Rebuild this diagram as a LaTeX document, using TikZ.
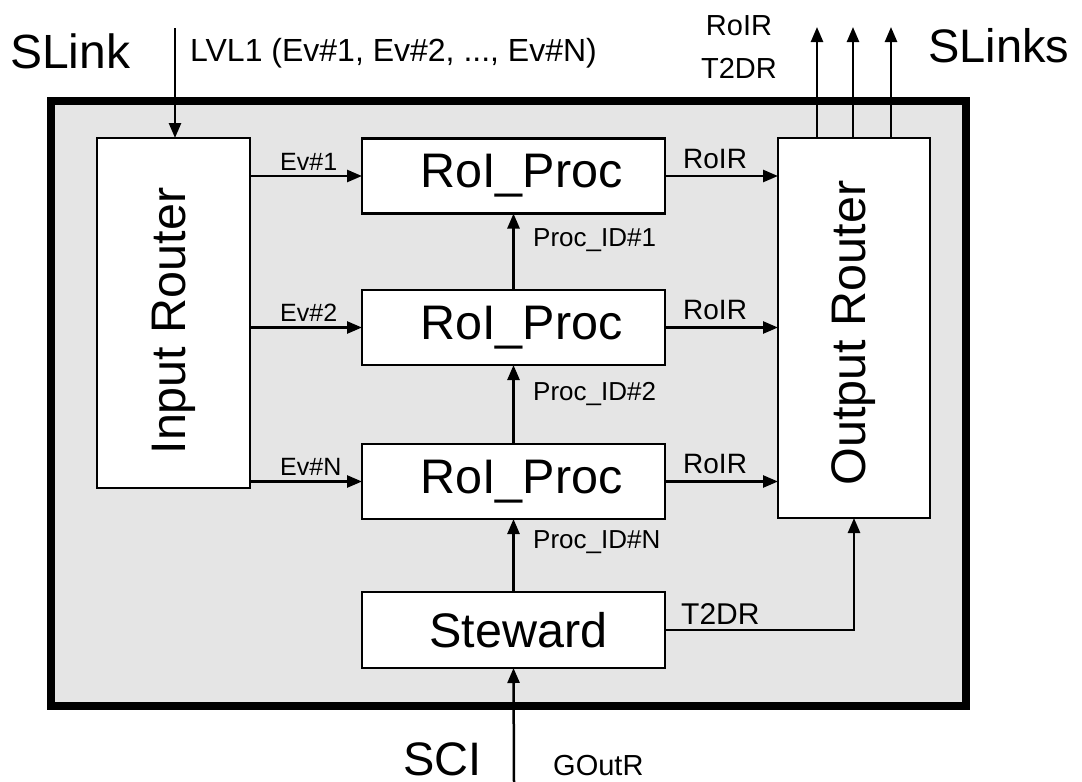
\documentclass[tikz,border=0pt]{standalone}
\usepackage{fontspec}
\setmainfont{Liberation Sans}
\usetikzlibrary{arrows.meta}
\definecolor{framegray}{RGB}{229,229,229}
\newcommand{\fs}[1]{\fontsize{#1}{#1}\selectfont}
\begin{document}
\begin{tikzpicture}[x=1pt,y=-1pt,
  box/.style={draw=black, fill=white, line width=2.5pt, inner sep=0pt, outer sep=0pt, font=\fs{48.5}},
  conn/.style={line width=2.5pt, -{Triangle[length=15pt,width=12pt]}},
  small/.style={font=\fs{25}, inner sep=0pt, anchor=base west},
  mid/.style={font=\fs{28}, inner sep=0pt, anchor=base west},
  big/.style={font=\fs{47}, inner sep=0pt, anchor=base west}]
\useasboundingbox (0,0) rectangle (1082,782);
% frame
\draw[line width=8pt, fill=framegray] (51,101) rectangle (966,706);
% boxes
\node[box, minimum width=153pt, minimum height=350pt] (in) at (173.5,313) {\rotatebox{90}{Input Router\hspace*{16pt}}};
\node[box, minimum width=303pt, minimum height=75pt] (p1) at (513.5,176) {\hspace*{16pt}RoI\_Proc};
\node[box, minimum width=303pt, minimum height=75pt] (p2) at (513.5,327.5) {\hspace*{16pt}RoI\_Proc};
\node[box, minimum width=303pt, minimum height=75pt] (p3) at (513.5,481.5) {\hspace*{16pt}RoI\_Proc};
\node[box, minimum width=152pt, minimum height=380pt] (out) at (854,328) {\rotatebox{90}{Output Router\hspace*{10pt}}};
\node[box, minimum width=303pt, minimum height=76pt] (st) at (513.5,630) {\hspace*{10pt}Steward};
% coordinates for free ends
\coordinate (lvlin) at (175,28);
\coordinate (o1) at (817,27);
\coordinate (o2) at (853,27);
\coordinate (o3) at (891,27);
\coordinate (sci) at (514,782);
% connectors
\draw[conn] (lvlin) -- (lvlin |- in.north);
\foreach \c in {o1,o2,o3} \draw[conn] (\c |- out.north) -- (\c);
\foreach \p in {p1,p2,p3} {
  \draw[conn] (in.east |- \p.west) -- (\p.west);
  \draw[conn] (\p.east) -- (out.west |- \p.east);
}
\draw[conn] (p2.north) -- (p1.south);
\draw[conn] (p3.north) -- (p2.south);
\draw[conn] (st.north) -- (p3.south);
\draw[conn] (st.east) -- (out.south |- st.east) -- (out.south);
\draw[conn] (sci) -- (st.south);
% labels
\node[big, font=\fs{48}] (tslink) at (10,68) {SLink};
\node[small, font=\fs{32}] (tlvl) at (190,61) {LVL1 (Ev\#1, Ev\#2, ..., Ev\#N)};
\node[mid, anchor=base, font=\fs{29}] (troir) at (739,35) {RoIR};
\node[mid, anchor=base, font=\fs{29}] (tt2dr) at (739,78) {T2DR};
\node[big] (tslinks) at (928,62) {SLinks};
\node[big] (tsci) at (403,775) {SCI};
\node[small, font=\fs{29}] (tgout) at (553,775) {GOutR};
\node[small] (e1) at (280,170) {Ev\#1};
\node[small] (e2) at (280,321) {Ev\#2};
\node[small] (e3) at (280,475) {Ev\#N};
\node[mid] (r1) at (683,168) {RoIR};
\node[mid] (r2) at (683,319) {RoIR};
\node[mid] (r3) at (683,473) {RoIR};
\node[small, font=\fs{26}] (id1) at (533,246) {Proc\_ID\#1};
\node[small, font=\fs{26}] (id2) at (533,400) {Proc\_ID\#2};
\node[small, font=\fs{26}] (idn) at (533,548) {Proc\_ID\#N};
\node[mid, font=\fs{30}] (t2) at (681,624) {T2DR};
\end{tikzpicture}
\end{document}
